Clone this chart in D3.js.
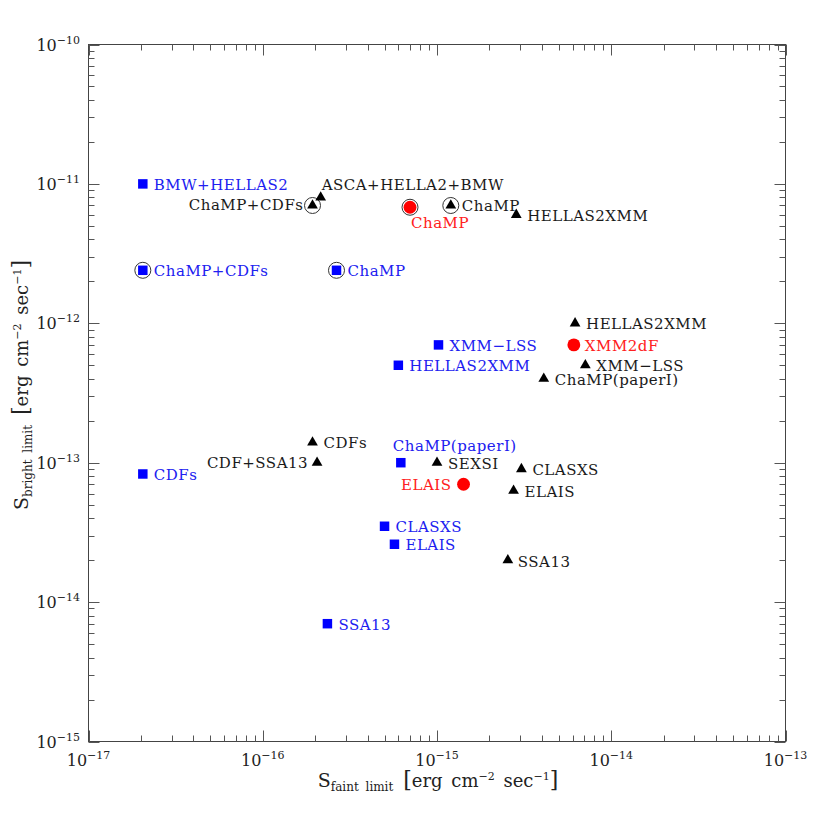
<!DOCTYPE html>
<html>
<head>
<meta charset="utf-8">
<script src="https://cdn.jsdelivr.net/npm/d3@7"></script>
<style>
  body { margin: 0; background: #fff; }
  text { font-family: "DejaVu Serif", "Liberation Serif", serif; }
</style>
</head>
<body>
<svg></svg>
<script>
// survey limits: faint limit (x) vs bright limit (y), erg cm^-2 s^-1

var blueNames = ['BMW+HELLAS2', 'ChaMP+CDFs', 'ChaMP', 'XMM\u2212LSS', 'HELLAS2XMM',
  'ChaMP(paperI)', 'CDFs', 'CLASXS', 'ELAIS', 'SSA13']
var blueFaint = [2.05e-17, 2.05e-17, 2.65e-16, 1.02e-15, 6e-16, 6.2e-16, 2.05e-17, 5e-16, 5.7e-16, 2.35e-16]
var blueBright = [1e-11, 2.4e-12, 2.4e-12, 7e-13, 5e-13, 1e-13, 8.3e-14, 3.5e-14, 2.6e-14, 7e-15]
var blueCircled = [false, true, true, false, false, false, false, false, false, false]

var blackNames = ['ASCA+HELLA2+BMW', 'ChaMP+CDFs', 'ChaMP', 'HELLAS2XMM', 'HELLAS2XMM',
  'XMM\u2212LSS', 'ChaMP(paperI)', 'CDFs', 'CDF+SSA13', 'SEXSI', 'CLASXS', 'ELAIS', 'SSA13']
var blackFaint = [2.15e-16, 1.93e-16, 1.2e-15, 2.85e-15, 6.2e-15, 7.1e-15, 4.1e-15, 1.93e-16, 2.05e-16, 1e-15, 3.05e-15, 2.75e-15, 2.55e-15]
var blackBright = [8e-12, 7e-12, 7e-12, 6e-12, 1e-12, 5e-13, 4e-13, 1.4e-13, 1e-13, 1e-13, 9e-14, 6.3e-14, 2e-14]
var blackCircled = [false, true, true, false, false, false, false, false, false, false, false, false, false]

var redNames = ['ChaMP', 'XMM2dF', 'ELAIS']
var redFaint = [7e-16, 6.1e-15, 1.42e-15]
var redBright = [6.8e-12, 7e-13, 7e-14]
var redCircled = [true, false, false]

var xDecades = [-17, -16, -15, -14, -13]
var yDecades = [-15, -14, -13, -12, -11, -10]

// -----------------

var w = 830
var h = 830

var svg = d3.select('svg')
    .attr('width', w)
    .attr('height', h)

var fLeft = 88.5
var fRight = 785.5
var fTop = 44.5
var fBottom = 741.5

var x = d3.scaleLog().domain([1e-17, 1e-13]).range([fLeft, fRight])
var y = d3.scaleLog().domain([1e-15, 1e-10]).range([fBottom, fTop])

// frame
svg.append('rect')
  .attr('x', fLeft).attr('y', fTop)
  .attr('width', fRight - fLeft).attr('height', fBottom - fTop)
  .attr('fill', 'none')
  .attr('stroke', '#444')
  .attr('stroke-width', 1)

// ticks on all four sides
function isMajor (v) {
  var l = Math.log10(v)
  return Math.abs(l - Math.round(l)) < 1e-6
}

var gt = svg.append('g').attr('stroke', '#555').attr('stroke-width', 1)

x.ticks().forEach(function (v) {
  var len = isMajor(v) ? 11 : 6
  var px = Math.round(x(v)) + 0.5
  gt.append('line').attr('x1', px).attr('x2', px).attr('y1', fBottom).attr('y2', fBottom - len)
  gt.append('line').attr('x1', px).attr('x2', px).attr('y1', fTop).attr('y2', fTop + len)
})

y.ticks().forEach(function (v) {
  var len = isMajor(v) ? 11 : 6
  var py = Math.round(y(v)) + 0.5
  gt.append('line').attr('x1', fLeft).attr('x2', fLeft + len).attr('y1', py).attr('y2', py)
  gt.append('line').attr('x1', fRight).attr('x2', fRight - len).attr('y1', py).attr('y2', py)
})

// tick labels
function powLabel (g, e) {
  g.append('tspan').text('10').style('font-size', '16px')
  g.append('tspan').text('\u2212' + Math.abs(e))
    .attr('dy', -7).style('font-size', '11px')
}

xDecades.forEach(function (e) {
  var t = svg.append('text')
    .attr('x', x(Math.pow(10, e)))
    .attr('y', 766)
    .attr('text-anchor', 'middle')
    .attr('fill', '#222')
  powLabel(t, e)
})

yDecades.forEach(function (e) {
  var t = svg.append('text')
    .attr('x', 80)
    .attr('y', y(Math.pow(10, e)) + 6)
    .attr('text-anchor', 'end')
    .attr('fill', '#222')
  powLabel(t, e)
})

// axis titles
function axisTitle (t, sub) {
  t.style('word-spacing', '3px')
  t.append('tspan').text('S').style('font-size', '19px')
  t.append('tspan').text(sub).attr('dy', 4).style('font-size', '12px')
  t.append('tspan').text(' [').attr('dy', -4).style('font-size', '22px')
  t.append('tspan').text('erg cm').style('font-size', '18px')
  t.append('tspan').text('\u22122').attr('dy', -7).style('font-size', '11px')
  t.append('tspan').text(' sec').attr('dy', 7).style('font-size', '18px')
  t.append('tspan').text('\u22121').attr('dy', -7).style('font-size', '11px')
  t.append('tspan').text(']').attr('dy', 7).style('font-size', '22px')
}

var xt = svg.append('text')
  .attr('x', 438).attr('y', 787)
  .attr('text-anchor', 'middle').attr('fill', '#222')
axisTitle(xt, 'faint limit')

var yt = svg.append('text')
  .attr('transform', 'translate(28,' + 385 + ') rotate(-90)')
  .attr('text-anchor', 'middle').attr('fill', '#222')
axisTitle(yt, 'bright limit')

// -----------------
// label placement: side and nudge per point (series:index)
var place = {
  'blue:5': { dx: -8, dy: -12, anchor: 'start' },
  'black:0': { dx: 1, dy: -7, anchor: 'start' },
  'black:1': { dx: -9, dy: 5, anchor: 'end' },
  'black:8': { dx: -9, dy: 5, anchor: 'end' },
  'black:12': { dx: 10, dy: 7, anchor: 'start' },
  'red:0': { dx: 1, dy: 21, anchor: 'start' },
  'red:2': { dx: -12, dy: 6, anchor: 'end' }
}

function series (key, names, fx, fy, circled, color, textColor, shape) {
  var data = names.map(function (n, i) {
    return { key: key + ':' + i, name: n, fx: fx[i], fy: fy[i], ring: circled[i] }
  })
  var g = svg.append('g')

  g.selectAll('circle.ring')
    .data(data.filter(function (d) { return d.ring }))
    .enter().append('circle')
    .attr('cx', function (d) { return x(d.fx) })
    .attr('cy', function (d) { return y(d.fy) })
    .attr('r', 8)
    .attr('fill', 'none')
    .attr('stroke', '#333')
    .attr('stroke-width', 1)

  g.selectAll('path.mark')
    .data(data)
    .enter().append('path')
    .attr('d', d3.symbol().type(shape.type).size(shape.size))
    .attr('transform', function (d) {
      return 'translate(' + x(d.fx) + ',' + (y(d.fy) + (shape.dy || 0)) + ')'
    })
    .attr('fill', color)

  g.selectAll('text')
    .data(data)
    .enter().append('text')
    .attr('x', function (d) {
      var p = place[d.key]
      return x(d.fx) + (p ? p.dx : 11)
    })
    .attr('y', function (d) {
      var p = place[d.key]
      return y(d.fy) + (p ? p.dy : 6)
    })
    .attr('text-anchor', function (d) {
      var p = place[d.key]
      return p ? p.anchor : 'start'
    })
    .style('font-size', '15px')
    .style('letter-spacing', '0.5px')
    .attr('fill', textColor)
    .text(function (d) { return d.name })
}

series('blue', blueNames, blueFaint, blueBright, blueCircled, '#0000ff', '#2020f0',
  { type: d3.symbolSquare, size: 90 })
series('black', blackNames, blackFaint, blackBright, blackCircled, '#000', '#1a1a1a',
  { type: d3.symbolTriangle, size: 50, dy: 0 })
series('red', redNames, redFaint, redBright, redCircled, '#ff0000', '#ff2020',
  { type: d3.symbolCircle, size: 130 })
</script>
</body>
</html>
